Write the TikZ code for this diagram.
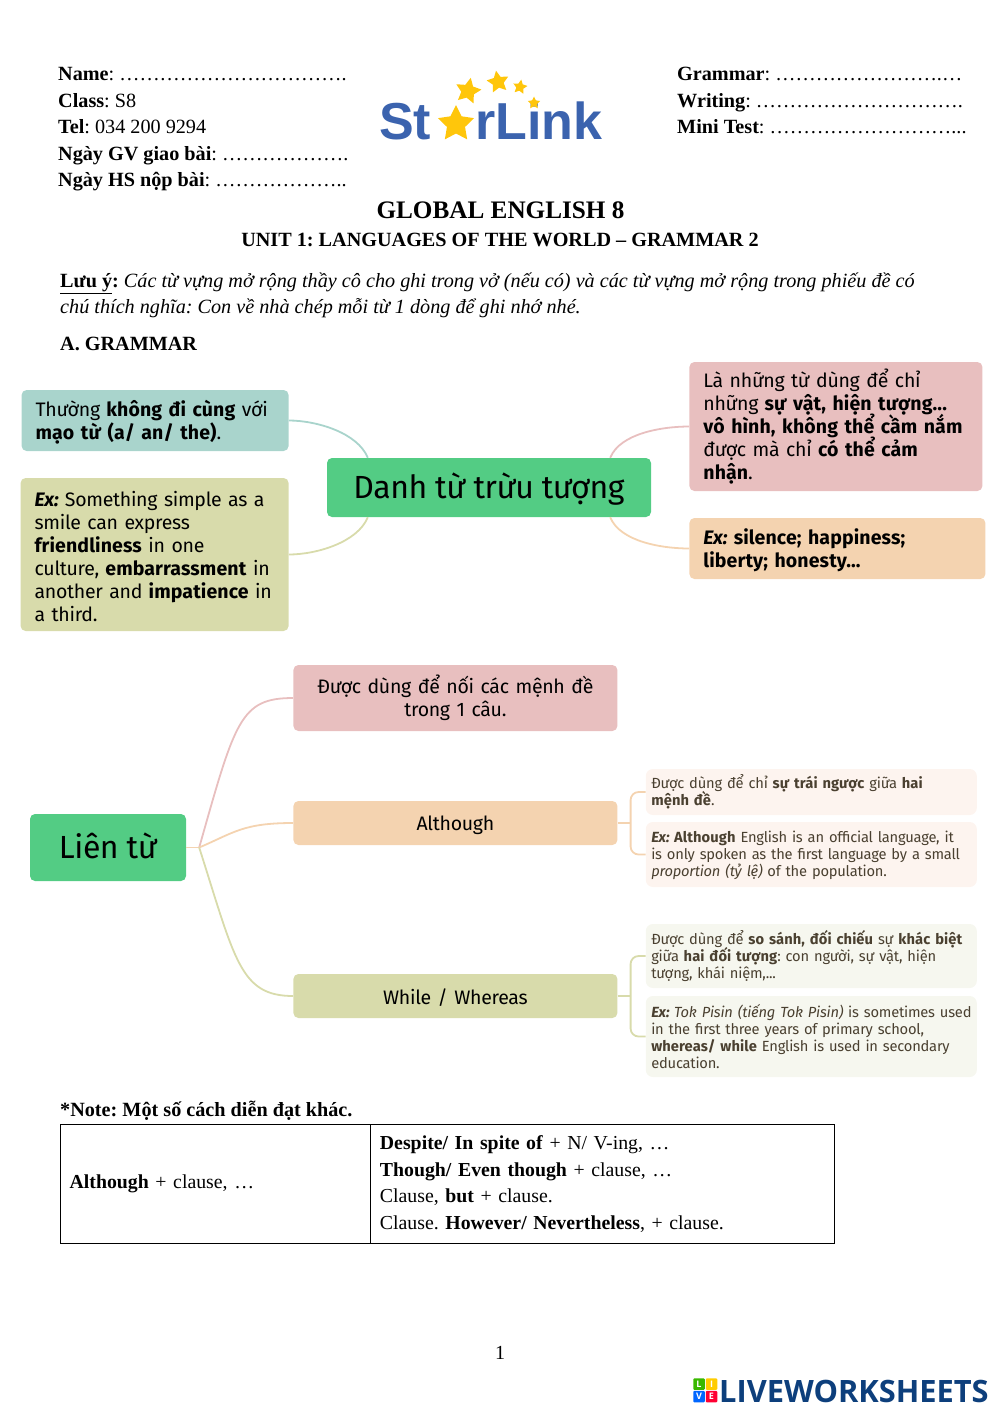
\documentclass[tikz,border=0pt]{standalone}
\usepackage{fontspec}
\setmainfont{Liberation Serif}
\newfontfamily\mapfont[LetterSpace=-1.5,BoldFeatures={LetterSpace=0.6}]{Fira Sans}
\newfontfamily\logofont{Liberation Sans}
\newfontfamily\brandfont{Open Sans}
\usepackage{xcolor}
\usetikzlibrary{positioning,shapes.geometric}
\frenchspacing

\begin{document}
\begin{tikzpicture}[
  x=1pt,y=-1pt,
  mapbox/.style={
    fill=#1,
    rounded corners=5pt,
    align=left,
    inner xsep=14pt,
    inner ysep=0pt,
    execute at begin node={\lineskiplimit=-20pt\rule{0pt}{19pt}},
    font=\mapfont\fontsize{19.5}{23}\selectfont
  },
  midbox/.style={
    fill=#1,
    rounded corners=5pt,
    align=center,
    text width=296pt,
    inner xsep=14pt,
    inner ysep=0pt,
    execute at begin node={\lineskiplimit=-20pt\rule{0pt}{19pt}},
    font=\mapfont\fontsize{19.5}{23}\selectfont
  },
  rootbox/.style={
    fill=mapgreen,
    rounded corners=5pt,
    inner sep=0pt,
    text height=28pt,
    text depth=7pt,
    font=\mapfont\fontsize{32}{36}\selectfont
  },
  notebox/.style={
    fill=#1,
    rounded corners=7pt,
    align=left,
    text width=320pt,
    inner xsep=5.5pt,
    inner ysep=0pt,
    text=notetext,
    execute at begin node={\lineskiplimit=-20pt\rule{0pt}{14pt}},
    font=\mapfont\fontsize{14.7}{17}\selectfont
  },
  branch/.style={draw=#1,line width=1.8pt},
  bodytext/.style={anchor=base west,inner sep=0pt,font=\fontsize{20.2}{26.6}\selectfont},
  headblock/.style={anchor=north west,align=left,inner sep=0pt,font=\fontsize{20.2}{26.6}\selectfont},
  logostar/.style={star,star points=5,star point ratio=2.0,fill=logogold,inner sep=0pt,minimum size=#1},
  logotext/.style={anchor=base west,inner sep=0pt,text=logoblue,font=\logofont\bfseries\fontsize{52}{52}\selectfont},
  tile/.style={fill=#1,text=white,inner sep=0pt,minimum size=11.5pt,rounded corners=1pt,font=\brandfont\bfseries\fontsize{9}{9}\selectfont},
  cell/.style={draw=black,line width=0.8pt,inner xsep=9pt,inner ysep=0pt,minimum height=119pt,align=left,font=\fontsize{19.8}{26.6}\selectfont}
]
\definecolor{mapgreen}{HTML}{53CC84}
\definecolor{mint}{HTML}{A9D4CC}
\definecolor{rosy}{HTML}{E8BFBF}
\definecolor{sage}{HTML}{D8DBAB}
\definecolor{peach}{HTML}{F4D3B0}
\definecolor{palepeach}{HTML}{FDF4EF}
\definecolor{palesage}{HTML}{F6F7EF}
\definecolor{notetext}{HTML}{4A4030}
\definecolor{logoblue}{HTML}{3B63AE}
\definecolor{logogold}{HTML}{FFC60B}
\definecolor{brandblue}{HTML}{0D3F7C}

\useasboundingbox (0,0) rectangle (1000,1414);

% header
\node[headblock] (student) at (58,67) {\textbf{Name}: …………………………….\\\textbf{Class}: S8\\\textbf{Tel}: 034 200 9294\\\textbf{Ngày GV giao bài}: ……………….\\\textbf{Ngày HS nộp bài}: ………………..};
\node[headblock] (marks) at (677,67) {\textbf{Grammar}: …………………….…\\\textbf{Writing}: ………………………….\\\textbf{Mini Test}: ………………………...};

% logo
\node[logotext] (logost) at (379,139) {St};
\node[logostar=38pt] (logobig) at (456,124) {};
\node[logotext] (logork) at (475,139) {rLink};
\node[logostar=27pt,rotate=-12] (logoa) at (468,91) {};
\node[logostar=23pt,rotate=10] (logob) at (498,82) {};
\node[logostar=15pt,rotate=-10] (logoc) at (520,87) {};
\node[logostar=13pt] (logod) at (534,103) {};

% titles
\node[inner sep=0pt,font=\bfseries\fontsize{25.2}{28}\selectfont] (title) at (500.5,210) {GLOBAL ENGLISH 8};
\node[inner sep=0pt,font=\bfseries\fontsize{20.2}{24}\selectfont] (unit) at (500,240) {UNIT 1: LANGUAGES OF THE WORLD – GRAMMAR 2};
\node[headblock,font=\fontsize{20.2}{25.5}\selectfont] (notice) at (60,273) {\textbf{\underline{Lưu ý}:} \textit{Các từ vựng mở rộng thầy cô cho ghi trong vở (nếu có) và các từ vựng mở rộng trong phiếu đề có}\\\textit{chú thích nghĩa: Con về nhà chép mỗi từ 1 dòng để ghi nhớ nhé.}};
\node[bodytext] (sectiona) at (60,350) {\textbf{A. GRAMMAR}};

% first map
\node[rootbox,minimum width=324pt,minimum height=59pt] (core) at (489,487.5) {Danh từ trừu tượng};
\node[mapbox=mint,left=38pt of core,yshift=67pt,text width=239pt,minimum height=61pt] (usage) {Thường \textbf{không đi cùng} với\\\textbf{mạo từ (a/ an/ the)}.};
\node[mapbox=sage,left=38pt of core,yshift=-67pt,text width=240pt,minimum height=153pt] (smile) {\textbf{\textit{Ex:}} Something simple as a\\smile can express\\\textbf{friendliness} in one\\culture, \textbf{embarrassment} in\\another and \textbf{impatience} in\\a third.};
\node[mapbox=rosy,right=38pt of core,yshift=61pt,text width=265pt,minimum height=129pt] (define) {Là những từ dùng để chỉ\\những \textbf{sự vật, hiện tượng...}\\\textbf{vô hình, không thể cầm nắm}\\được mà chỉ \textbf{có thể cảm}\\\textbf{nhận}.};
\node[mapbox=peach,right=38pt of core,yshift=-61pt,text width=268pt,minimum height=61pt] (examples) {\textbf{\textit{Ex:} silence; happiness;}\\\textbf{liberty; honesty...}};

\draw[branch=mint] (usage.east) to[out=0,in=112,looseness=0.8] ([xshift=41pt]core.north west);
\draw[branch=sage] (smile.east) to[out=0,in=-112,looseness=0.8] ([xshift=41pt]core.south west);
\draw[branch=rosy] (define.west) to[out=180,in=68,looseness=0.8] ([xshift=-41pt]core.north east);
\draw[branch=peach] (examples.west) to[out=180,in=-68,looseness=0.8] ([xshift=-41pt]core.south east);

% second map
\node[rootbox,minimum width=156pt,minimum height=67pt] (root) at (108,847.5) {Liên từ};
\node[midbox=rosy,right=107pt of root,yshift=149.5pt,minimum height=66pt] (joins) {Được dùng để nối các mệnh đề\\trong 1 câu.};
\node[midbox=peach,right=107pt of root,yshift=24.5pt,minimum height=44pt] (although) {Although};
\node[midbox=sage,right=107pt of root,yshift=-148.5pt,minimum height=44pt] (whereas) {While / Whereas};

\node[notebox=palepeach,right=28pt of although,yshift=31pt,minimum height=46pt] (contrast) {Được dùng để chỉ \textbf{sự trái ngược} giữa \textbf{hai}\\\textbf{mệnh đề}.};
\node[notebox=palepeach,right=28pt of although,yshift=-31.5pt,minimum height=65pt] (officiallang) {\textbf{\textit{Ex:} Although} English is an official language, it\\is only spoken as the first language by a small\\\textit{proportion (tỷ lệ)} of the population.};
\node[notebox=palesage,right=28pt of whereas,yshift=40pt,minimum height=64pt] (compare) {Được dùng để \textbf{so sánh, đối chiếu} sự \textbf{khác biệt}\\giữa \textbf{hai đối tượng}: con người, sự vật, hiện\\tượng, khái niệm,...};
\node[notebox=palesage,right=28pt of whereas,yshift=-40.5pt,minimum height=81pt] (tokpisin) {\mbox{\textbf{\textit{Ex:}} \textit{Tok Pisin (tiếng Tok Pisin)} is sometimes used}\\in the first three years of primary school,\\\textbf{whereas/ while} English is used in secondary\\education.};

\draw[branch=peach] (root.east) -- ++(13,0) coordinate (fork);
\draw[branch=rosy] (fork) .. controls +(36,-127) and +(-53,0) .. (joins.west);
\draw[branch=peach] (fork) .. controls +(35,-15) and +(-50,0) .. (although.west);
\draw[branch=sage] (fork) .. controls +(36,113) and +(-53,0) .. (whereas.west);

\draw[branch=peach] (although.east) -- ++(13,0);
\draw[branch=peach,rounded corners=8pt] (contrast.west) -- ++(-15,0) |- (officiallang.west);
\draw[branch=sage] (whereas.east) -- ++(13,0);
\draw[branch=sage,rounded corners=8pt] (compare.west) -- ++(-15,0) |- (tokpisin.west);

% note and table
\node[bodytext] (notehead) at (60,1116) {\textbf{*Note: Một số cách diễn đạt khác.}};
\node[cell,anchor=north west,text width=291pt,minimum width=309.5pt] (cellleft) at (60,1124) {\textbf{Although} + clause, …};
\node[cell,right=0pt of cellleft,text width=445pt,minimum width=463.5pt] (cellright) {\textbf{Despite/ In spite of} + N/ V-ing, …\\\textbf{Though/ Even though} + clause, …\\Clause, \textbf{but} + clause.\\Clause. \textbf{However/ Nevertheless}, + clause.};

% footer
\node[inner sep=0pt,font=\fontsize{20}{24}\selectfont] (pagenum) at (500,1353) {1};
\node[tile=green!60!black!70!lime] (tilel) at (699,1384) {L};
\node[tile=orange!40!yellow] (tilei) at (711.5,1384) {I};
\node[tile=blue!60!cyan] (tilev) at (699,1396.5) {V};
\node[tile=red!80!magenta] (tilee) at (711.5,1396.5) {E};
\node[anchor=base west,inner sep=0pt,text=brandblue,font=\brandfont\bfseries\fontsize{30.8}{31}\selectfont] (brand) at (719,1402) {LIVEWORKSHEETS};
\end{tikzpicture}
\end{document}
